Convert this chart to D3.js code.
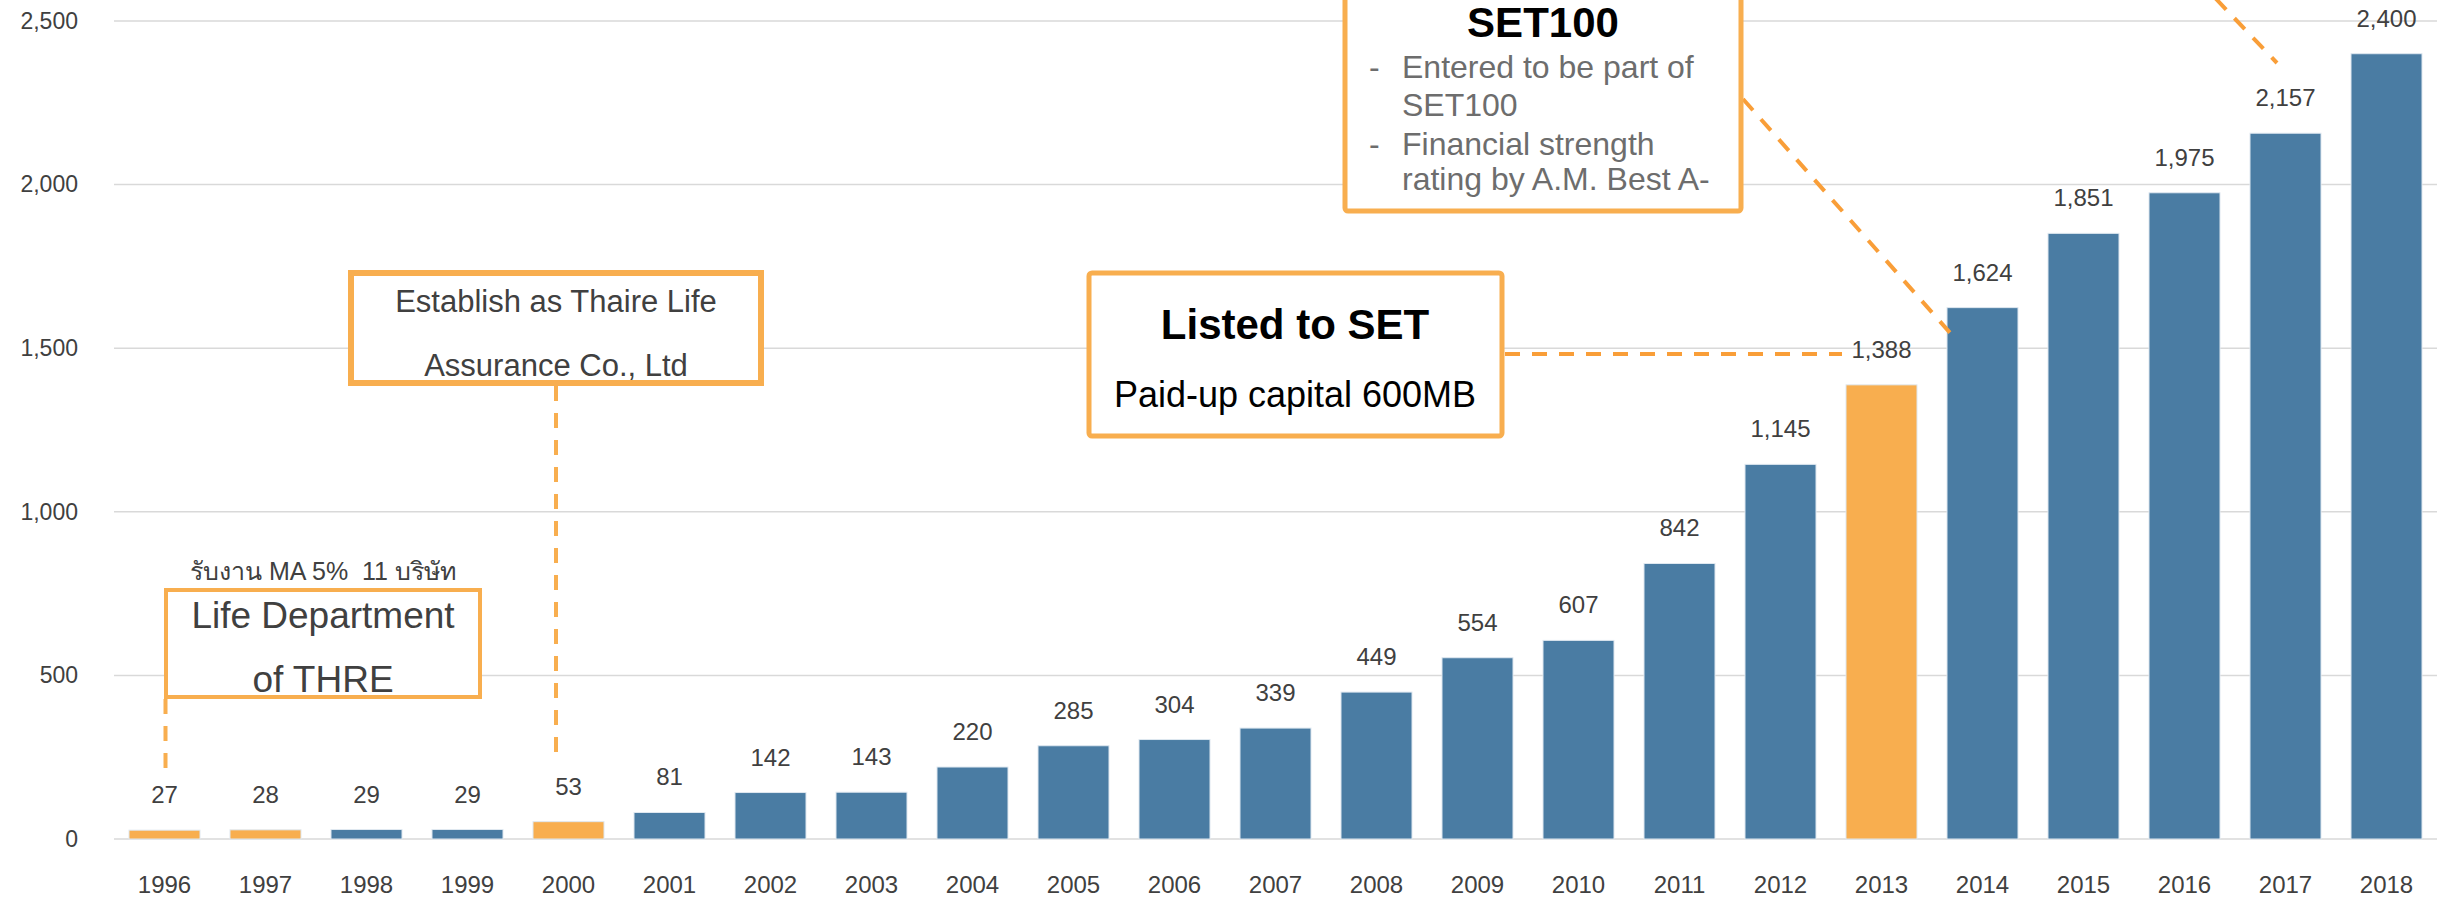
<!DOCTYPE html>
<html>
<head>
<meta charset="utf-8">
<script src="https://cdn.jsdelivr.net/npm/d3@7"></script>
<style>
  body { margin: 0; background: #fff; }
  text { font-family: "Liberation Sans", Arial, sans-serif; white-space: pre; }
</style>
</head>
<body>
<div id="chart"></div>
<script>
// data
var years = ["1996","1997","1998","1999","2000","2001","2002","2003","2004","2005","2006","2007",
             "2008","2009","2010","2011","2012","2013","2014","2015","2016","2017","2018"];
var premiums = [27, 28, 29, 29, 53, 81, 142, 143, 220, 285, 304, 339,
                449, 554, 607, 842, 1145, 1388, 1624, 1851, 1975, 2157, 2400];
var milestoneYears = ["1996", "1997", "2000", "2013"];
var yTicks = [0, 500, 1000, 1500, 2000, 2500];

var W = 2451, H = 898;
var blue = "#4a7ca3", orange = "#f8ae4f", dashOrange = "#f99e38", ink = "#404040";

var svg = d3.select("#chart")
  .append("svg")
  .attr("width", W)
  .attr("height", H);

svg.append("rect").attr("width", W).attr("height", H).attr("fill", "#fff");

var x = d3.scaleBand()
  .domain(years)
  .range([114, 2437])
  .paddingInner(0.297)
  .paddingOuter(0.1485);

var y = d3.scaleLinear()
  .domain([0, 2500])
  .range([839, 21]);

// gridlines
svg.append("g").selectAll("line")
  .data(yTicks)
  .enter().append("line")
  .attr("x1", 114).attr("x2", 2437)
  .attr("y1", function(d){ return y(d); })
  .attr("y2", function(d){ return y(d); })
  .attr("stroke", "#d9d9d9")
  .attr("stroke-width", 1.5);

// y axis labels
var yAxis = svg.append("g")
  .attr("transform", "translate(114,0)")
  .call(d3.axisLeft(y).tickValues(yTicks).tickSize(0).tickPadding(36).tickFormat(d3.format(",")));
yAxis.select(".domain").remove();
yAxis.selectAll("text").style("font-size", "23px").attr("fill", ink)
  .style("font-family", "'Liberation Sans', Arial, sans-serif");

// x axis labels
var xAxis = svg.append("g")
  .attr("transform", "translate(0,839)")
  .call(d3.axisBottom(x).tickSize(0).tickPadding(37));
xAxis.select(".domain").remove();
xAxis.selectAll("text").style("font-size", "24px").attr("fill", ink)
  .style("font-family", "'Liberation Sans', Arial, sans-serif");

var rows = years.map(function(yr, i){ return {year: yr, value: premiums[i]}; });

// bars
svg.append("g").selectAll("rect")
  .data(rows)
  .enter().append("rect")
  .attr("x", function(d){ return x(d.year); })
  .attr("width", x.bandwidth())
  .attr("y", function(d){ return y(d.value); })
  .attr("height", function(d){ return y(0) - y(d.value); })
  .attr("fill", function(d){ return milestoneYears.indexOf(d.year) >= 0 ? orange : blue; })
  .attr("stroke", "#dfe8f0")
  .attr("stroke-width", 1);

// value labels
svg.append("g").selectAll("text")
  .data(rows)
  .enter().append("text")
  .attr("x", function(d){ return x(d.year) + x.bandwidth() / 2; })
  .attr("y", function(d){ return y(d.value) - 27; })
  .attr("text-anchor", "middle")
  .attr("fill", ink)
  .style("font-size", "24px")
  .text(function(d){ return d3.format(",")(d.value); });

// ---- annotations ----
function dashed(x1, y1, x2, y2, col){
  svg.append("line")
    .attr("x1", x1).attr("y1", y1).attr("x2", x2).attr("y2", y2)
    .attr("stroke", col || dashOrange)
    .attr("stroke-width", 4)
    .attr("stroke-dasharray", "15,12");
}
function box(x0, y0, w, h, sw, rx){
  svg.append("rect")
    .attr("x", x0).attr("y", y0).attr("width", w).attr("height", h)
    .attr("rx", rx || 0)
    .attr("fill", "#fff")
    .attr("stroke", orange)
    .attr("stroke-width", sw);
}
function label(tx, ty, str, size, col, weight, anchor){
  svg.append("text")
    .attr("x", tx).attr("y", ty)
    .attr("text-anchor", anchor || "middle")
    .attr("fill", col)
    .style("font-size", size + "px")
    .style("font-weight", weight || "normal")
    .text(str);
}

var cx1996 = x("1996") + x.bandwidth() / 2;

// connectors first, boxes on top
dashed(cx1996 + 1, 699, cx1996 + 1, y(0) - 66, orange);
dashed(556, 386, 556, 755, orange);
dashed(1505, 354, x("2013") - 4, 354);
dashed(1743, 99, x("2014") + 10, y(1624) + 33);
dashed(2160, -60, x("2017") + 27, 63);

// Life Department of THRE
label(323, 580, "รับงาน MA 5%  11 บริษัท", 25, ink);
box(166, 590, 314, 107, 4);
label(323, 628, "Life Department", 37, ink);
label(323, 692, "of THRE", 37, ink);

// Establish as Thaire Life
box(351, 273, 410, 110, 6);
label(556, 312, "Establish as Thaire Life", 31, ink);
label(556, 376, "Assurance Co., Ltd", 31, ink);

// Listed to SET
box(1089, 273, 413, 163, 5, 3);
label(1295, 339, "Listed to SET", 42, "#000", "bold");
label(1295, 407, "Paid-up capital 600MB", 36, "#000");

// SET100
box(1345, -60, 396, 271, 5, 3);
label(1543, 37, "SET100", 42, "#000", "bold");
label(1369, 78, "-", 32, "#6d6d6d", "normal", "start");
label(1402, 78, "Entered to be part of", 32, "#6d6d6d", "normal", "start");
label(1402, 116, "SET100", 32, "#6d6d6d", "normal", "start");
label(1369, 155, "-", 32, "#6d6d6d", "normal", "start");
label(1402, 155, "Financial strength", 32, "#6d6d6d", "normal", "start");
label(1402, 190, "rating by A.M. Best A-", 32, "#6d6d6d", "normal", "start");
</script>
</body>
</html>
